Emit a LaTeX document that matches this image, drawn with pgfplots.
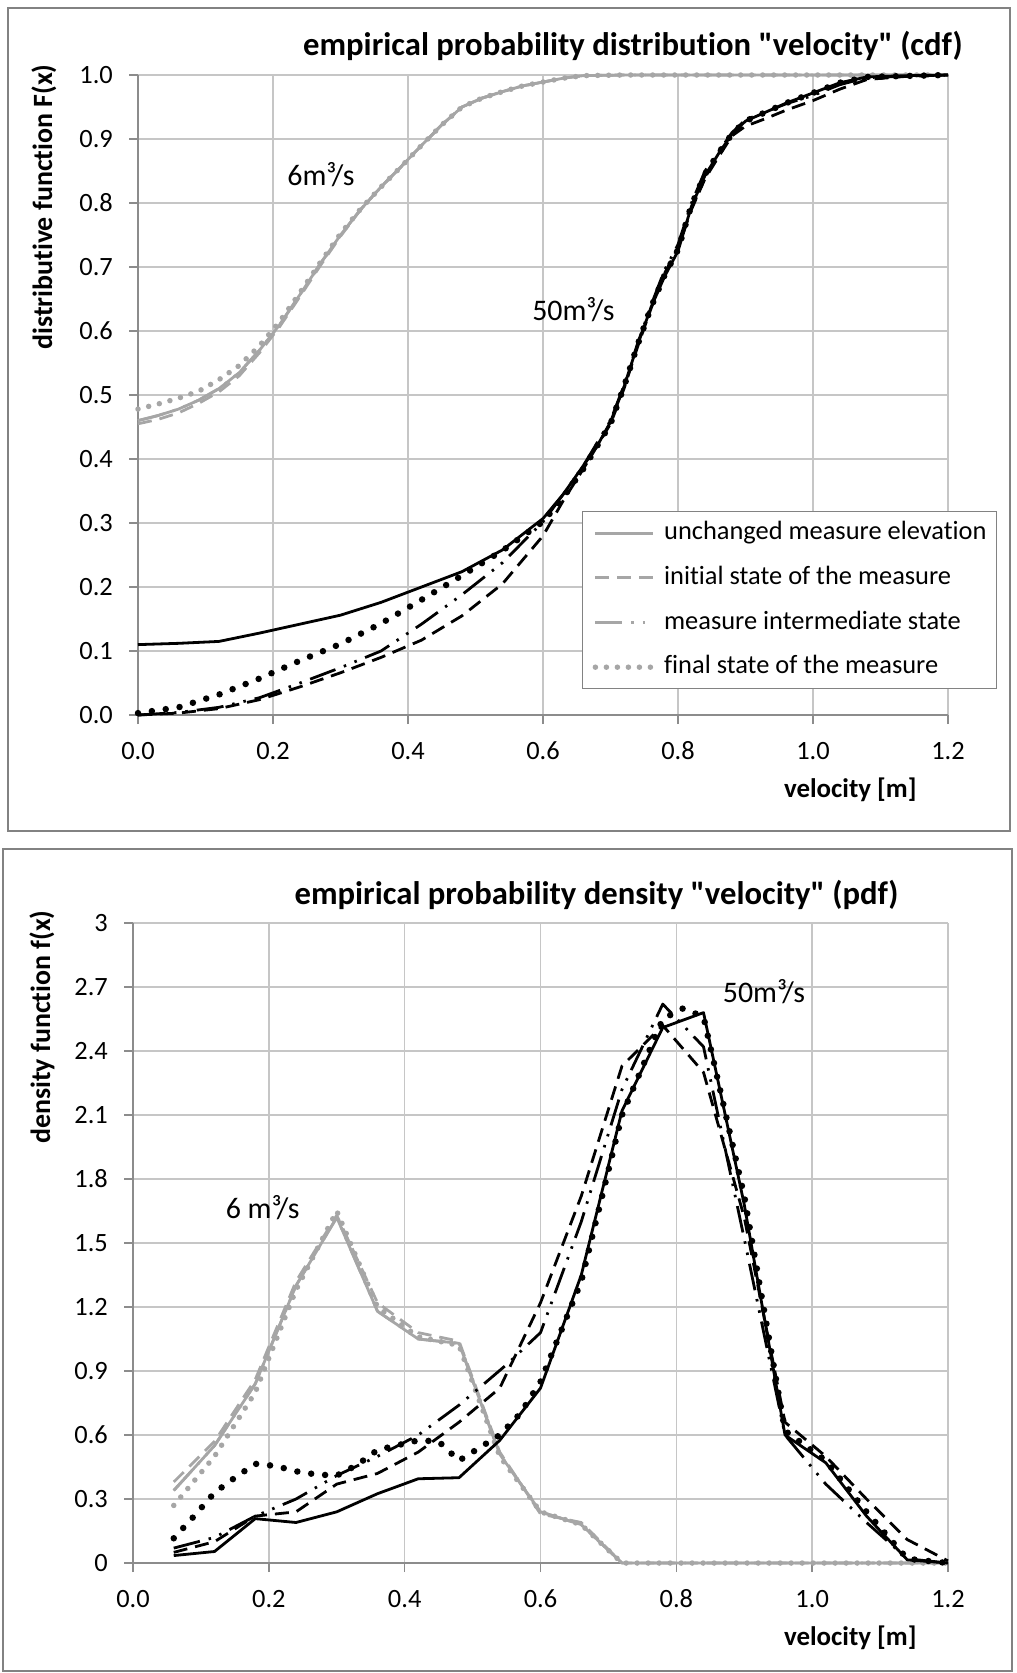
\documentclass[border=0pt]{standalone}
\usepackage{pgfplots}
\pgfplotsset{compat=1.18}
\usepackage{fontspec}
\setmainfont{Carlito}[Ligatures={TeXOff,CommonOff}]
\definecolor{sgray}{HTML}{A6A6A6}
\definecolor{gridc}{HTML}{C6C6C6}
\definecolor{axc}{HTML}{8C8C8C}
\definecolor{framec}{HTML}{828282}

\pgfplotstableread{
x y
0 0.478
0.03 0.486
0.06 0.495
0.09 0.506
0.12 0.524
0.15 0.546
0.18 0.577
0.21 0.615
0.24 0.660
0.27 0.707
0.30 0.752
0.33 0.791
0.36 0.825
0.39 0.857
0.42 0.890
0.45 0.922
0.48 0.950
0.51 0.964
0.54 0.974
0.57 0.983
0.60 0.989
0.63 0.995
0.66 0.999
0.72 1.0
0.84 1.0
0.96 1.0
1.08 1.0
1.2 1.0
}\cdfGdot
\pgfplotstableread{
x y
0 0.455
0.03 0.462
0.06 0.472
0.09 0.487
0.12 0.505
0.15 0.530
0.18 0.566
0.21 0.607
0.24 0.654
0.27 0.702
0.30 0.748
0.33 0.790
0.36 0.825
0.39 0.857
0.42 0.890
0.45 0.922
0.48 0.950
0.51 0.964
0.54 0.974
0.57 0.983
0.60 0.989
0.63 0.995
0.66 0.999
0.72 1.0
0.84 1.0
0.96 1.0
1.08 1.0
1.2 1.0
}\cdfGdash
\pgfplotstableread{
x y
0 0.460
0.03 0.468
0.06 0.478
0.09 0.492
0.12 0.510
0.15 0.535
0.18 0.570
0.21 0.610
0.24 0.657
0.27 0.705
0.30 0.750
0.33 0.790
0.36 0.825
0.39 0.857
0.42 0.890
0.45 0.922
0.48 0.950
0.51 0.964
0.54 0.974
0.57 0.983
0.60 0.989
0.63 0.995
0.66 0.999
0.72 1.0
0.84 1.0
0.96 1.0
1.08 1.0
1.2 1.0
}\cdfGdd
\pgfplotstableread{
x y
0 0.110
0.06 0.112
0.12 0.115
0.18 0.128
0.24 0.142
0.30 0.156
0.36 0.176
0.42 0.200
0.48 0.224
0.54 0.258
0.60 0.307
0.63 0.345
0.66 0.390
0.68 0.420
0.70 0.458
0.72 0.513
0.74 0.578
0.76 0.637
0.78 0.685
0.80 0.725
0.82 0.795
0.84 0.843
0.86 0.877
0.88 0.908
0.90 0.928
0.93 0.942
0.96 0.956
1.00 0.972
1.04 0.988
1.08 0.997
1.14 0.999
1.20 1.000
}\cdfBsol
\pgfplotstableread{
x y
0 0.000
0.06 0.003
0.12 0.010
0.18 0.024
0.24 0.044
0.30 0.066
0.36 0.090
0.42 0.117
0.48 0.155
0.54 0.205
0.60 0.280
0.63 0.335
0.66 0.385
0.70 0.455
0.72 0.510
0.74 0.575
0.76 0.635
0.78 0.690
0.80 0.730
0.82 0.790
0.84 0.838
0.86 0.872
0.88 0.905
0.90 0.920
0.93 0.932
0.96 0.945
1.00 0.960
1.04 0.978
1.08 0.993
1.14 0.998
1.20 1.000
}\cdfBdash
\pgfplotstableread{
x y
0 0.000
0.06 0.004
0.12 0.012
0.18 0.027
0.24 0.050
0.30 0.074
0.36 0.100
0.42 0.142
0.48 0.188
0.54 0.238
0.60 0.302
0.63 0.345
0.66 0.390
0.70 0.460
0.72 0.515
0.74 0.580
0.76 0.640
0.78 0.695
0.80 0.735
0.82 0.800
0.84 0.850
0.86 0.880
0.88 0.910
0.90 0.930
0.96 0.955
1.00 0.968
1.04 0.985
1.08 0.996
1.20 1.000
}\cdfBdd
\pgfplotstableread{
x y
0 0.003
0.06 0.012
0.12 0.032
0.18 0.057
0.24 0.085
0.30 0.111
0.36 0.143
0.42 0.180
0.48 0.218
0.54 0.257
0.60 0.302
0.63 0.340
0.66 0.385
0.70 0.455
0.72 0.513
0.74 0.578
0.76 0.637
0.78 0.687
0.80 0.727
0.82 0.797
0.84 0.845
0.86 0.878
0.88 0.908
0.90 0.928
0.96 0.956
1.00 0.972
1.04 0.988
1.08 0.997
1.20 1.000
}\cdfBdot
% ---- pdf ----
\pgfplotstableread{
x y
0.06 0.27
0.12 0.50
0.18 0.80
0.24 1.28
0.30 1.65
0.36 1.20
0.42 1.06
0.48 1.02
0.54 0.50
0.60 0.24
0.66 0.18
0.72 0.0
0.84 0.0
0.96 0.0
1.08 0.0
1.20 0.0
}\pdfGdot
\pgfplotstableread{
x y
0.06 0.38
0.12 0.57
0.18 0.86
0.24 1.32
0.30 1.63
0.36 1.22
0.42 1.08
0.48 1.04
0.54 0.52
0.60 0.23
0.66 0.19
0.72 0.0
0.84 0.0
0.96 0.0
1.08 0.0
1.20 0.0
}\pdfGdash
\pgfplotstableread{
x y
0.06 0.34
0.12 0.55
0.18 0.84
0.24 1.30
0.30 1.62
0.36 1.18
0.42 1.05
0.48 1.03
0.54 0.51
0.60 0.24
0.66 0.18
0.72 0.0
0.84 0.0
0.96 0.0
1.08 0.0
1.20 0.0
}\pdfGdd
\pgfplotstableread{
x y
0.06 0.035
0.12 0.054
0.18 0.208
0.24 0.190
0.30 0.240
0.36 0.325
0.42 0.395
0.48 0.400
0.54 0.575
0.60 0.820
0.66 1.350
0.72 2.120
0.78 2.510
0.84 2.580
0.90 1.680
0.96 0.600
1.02 0.470
1.08 0.220
1.14 0.015
1.20 0.000
}\pdfBsol
\pgfplotstableread{
x y
0.06 0.05
0.12 0.10
0.18 0.22
0.24 0.24
0.30 0.37
0.36 0.42
0.42 0.52
0.48 0.66
0.54 0.82
0.60 1.22
0.66 1.72
0.72 2.33
0.78 2.52
0.84 2.30
0.90 1.62
0.96 0.66
1.02 0.50
1.08 0.30
1.14 0.11
1.20 0.01
}\pdfBdash
\pgfplotstableread{
x y
0.06 0.07
0.12 0.12
0.18 0.22
0.24 0.30
0.30 0.41
0.36 0.50
0.42 0.60
0.48 0.74
0.55 0.93
0.60 1.08
0.66 1.60
0.72 2.22
0.78 2.62
0.84 2.42
0.90 1.52
0.96 0.60
1.02 0.37
1.08 0.19
1.14 0.02
1.20 0.00
}\pdfBdd
\pgfplotstableread{
x y
0.06 0.116
0.09 0.22
0.12 0.33
0.15 0.40
0.18 0.465
0.21 0.455
0.24 0.43
0.27 0.415
0.30 0.41
0.33 0.46
0.36 0.53
0.42 0.575
0.45 0.57
0.48 0.48
0.51 0.54
0.54 0.60
0.57 0.70
0.60 0.85
0.66 1.32
0.72 2.10
0.78 2.55
0.81 2.60
0.84 2.56
0.90 1.72
0.96 0.62
1.02 0.48
1.08 0.24
1.14 0.02
1.20 0.00
}\pdfBdot

\pgfplotsset{
  sSol/.style={line width=2.8bp, line join=round},
  sDash/.style={line width=2.8bp, line join=round, dash pattern=on 14bp off 8bp},
  sDD/.style={line width=2.8bp, line join=round, dash pattern=on 27bp off 9bp on 2.5bp off 9bp on 2.5bp off 9bp},
  sDot/.style={line width=6.5bp, line cap=round, line join=round, dash pattern=on 0bp off 14bp},
  sGDot/.style={line width=5.5bp, line cap=round, line join=round, dash pattern=on 0bp off 11bp},
  base/.style={
    scale only axis, height=640bp, xmin=0, xmax=1.2,
    xtick={0,0.2,0.4,0.6,0.8,1.0,1.2},
    xticklabels={0.0,0.2,0.4,0.6,0.8,1.0,1.2},
    axis x line*=bottom, axis y line*=left,
    axis line style={draw=axc, line width=1.5bp, -},
    grid=major, major grid style={draw=gridc, line width=1.5bp},
    tick align=outside, major tick length=9bp,
    tick style={draw=axc, line width=1.5bp},
    xticklabel style={anchor=base, inner sep=0pt, yshift=-35bp},
    yticklabel style={anchor=east, inner sep=0pt, xshift=-16bp},
    tick label style={font=\fontsize{26.5}{30}\selectfont},
    clip=false,
  },
}

\begin{document}
\begin{tikzpicture}[x=1bp,y=1bp]
\path[use as bounding box] (0,0) rectangle (1016,-1673);
\draw[framec, line width=2.5bp] (8,-8) rectangle (1010,-831);
\draw[framec, line width=2.5bp] (3,-849) rectangle (1012,-1671);

% ---------- CDF ----------
\begin{axis}[base, at={(138bp,-715bp)}, anchor=south west, width=810bp,
  ymin=0, ymax=1,
  ytick={0,0.1,0.2,0.3,0.4,0.5,0.6,0.7,0.8,0.9,1.0},
  yticklabels={0.0,0.1,0.2,0.3,0.4,0.5,0.6,0.7,0.8,0.9,1.0},
  legend style={at={(0.548,0.319)}, anchor=north west, draw=framec, line width=1.5bp,
    fill=white, font=\fontsize{26.5}{30}\selectfont, inner xsep=10bp, inner ysep=9bp,
    row sep=19.7bp, nodes={inner sep=0pt, text height=19bp, text depth=6bp},
    /tikz/every odd column/.append style={column sep=8bp}},
  legend cell align=left,
  legend image code/.code={\draw[#1] (0bp,0bp) -- (58bp,0bp);},
]
\addplot[sSol, sgray] table {\cdfGdd};
\addlegendentry{unchanged measure elevation}
\addplot[sDash, sgray] table {\cdfGdash};
\addlegendentry{initial state of the measure}
\addplot[sDD, sgray] table {\cdfGdd};
\addlegendentry{measure intermediate state}
\addplot[sGDot, sgray] table {\cdfGdot};
\addlegendentry{final state of the measure}
\addplot[sSol, black, forget plot] table {\cdfBsol};
\addplot[sDash, black, forget plot] table {\cdfBdash};
\addplot[sDD, black, forget plot] table {\cdfBdd};
\addplot[sDot, black, forget plot] table {\cdfBdot};
\node[font=\fontsize{30}{34}\selectfont] at (axis cs:0.271,0.844) {6m³/s};
\node[font=\fontsize{30}{34}\selectfont] at (axis cs:0.645,0.633) {50m³/s};
\end{axis}
\node[anchor=base east, font=\bfseries\fontsize{32.8}{38}\selectfont] at (966,-56) {empirical probability distribution "velocity" (cdf)};
\node[anchor=base east, font=\bfseries\fontsize{27}{32}\selectfont] at (920,-797) {velocity [m]};
\node[rotate=90, anchor=base east, font=\bfseries\fontsize{28}{32}\selectfont] at (52,-61) {distributive function F(x)};

% ---------- PDF ----------
\begin{axis}[base, at={(133bp,-1563bp)}, anchor=south west, width=815bp,
  ymin=0, ymax=3,
  ytick={0,0.3,0.6,0.9,1.2,1.5,1.8,2.1,2.4,2.7,3},
  yticklabels={0,0.3,0.6,0.9,1.2,1.5,1.8,2.1,2.4,2.7,3},
]
\addplot[sSol, sgray] table {\pdfGdd};
\addplot[sDash, sgray] table {\pdfGdash};
\addplot[sDD, sgray] table {\pdfGdd};
\addplot[sGDot, sgray] table {\pdfGdot};
\addplot[sSol, black] table {\pdfBsol};
\addplot[sDash, black] table {\pdfBdash};
\addplot[sDD, black] table {\pdfBdd};
\addplot[sDot, black] table {\pdfBdot};
\node[font=\fontsize{30}{34}\selectfont] at (axis cs:0.191,1.664) {6 m³/s};
\node[font=\fontsize{30}{34}\selectfont] at (axis cs:0.929,2.68) {50m³/s};
\end{axis}
\node[anchor=base east, font=\bfseries\fontsize{32.8}{38}\selectfont] at (902,-904) {empirical probability density "velocity" (pdf)};
\node[anchor=base east, font=\bfseries\fontsize{27}{32}\selectfont] at (920,-1645) {velocity [m]};
\node[rotate=90, anchor=base east, font=\bfseries\fontsize{28}{32}\selectfont] at (50,-907) {density function f(x)};
\end{tikzpicture}
\end{document}
